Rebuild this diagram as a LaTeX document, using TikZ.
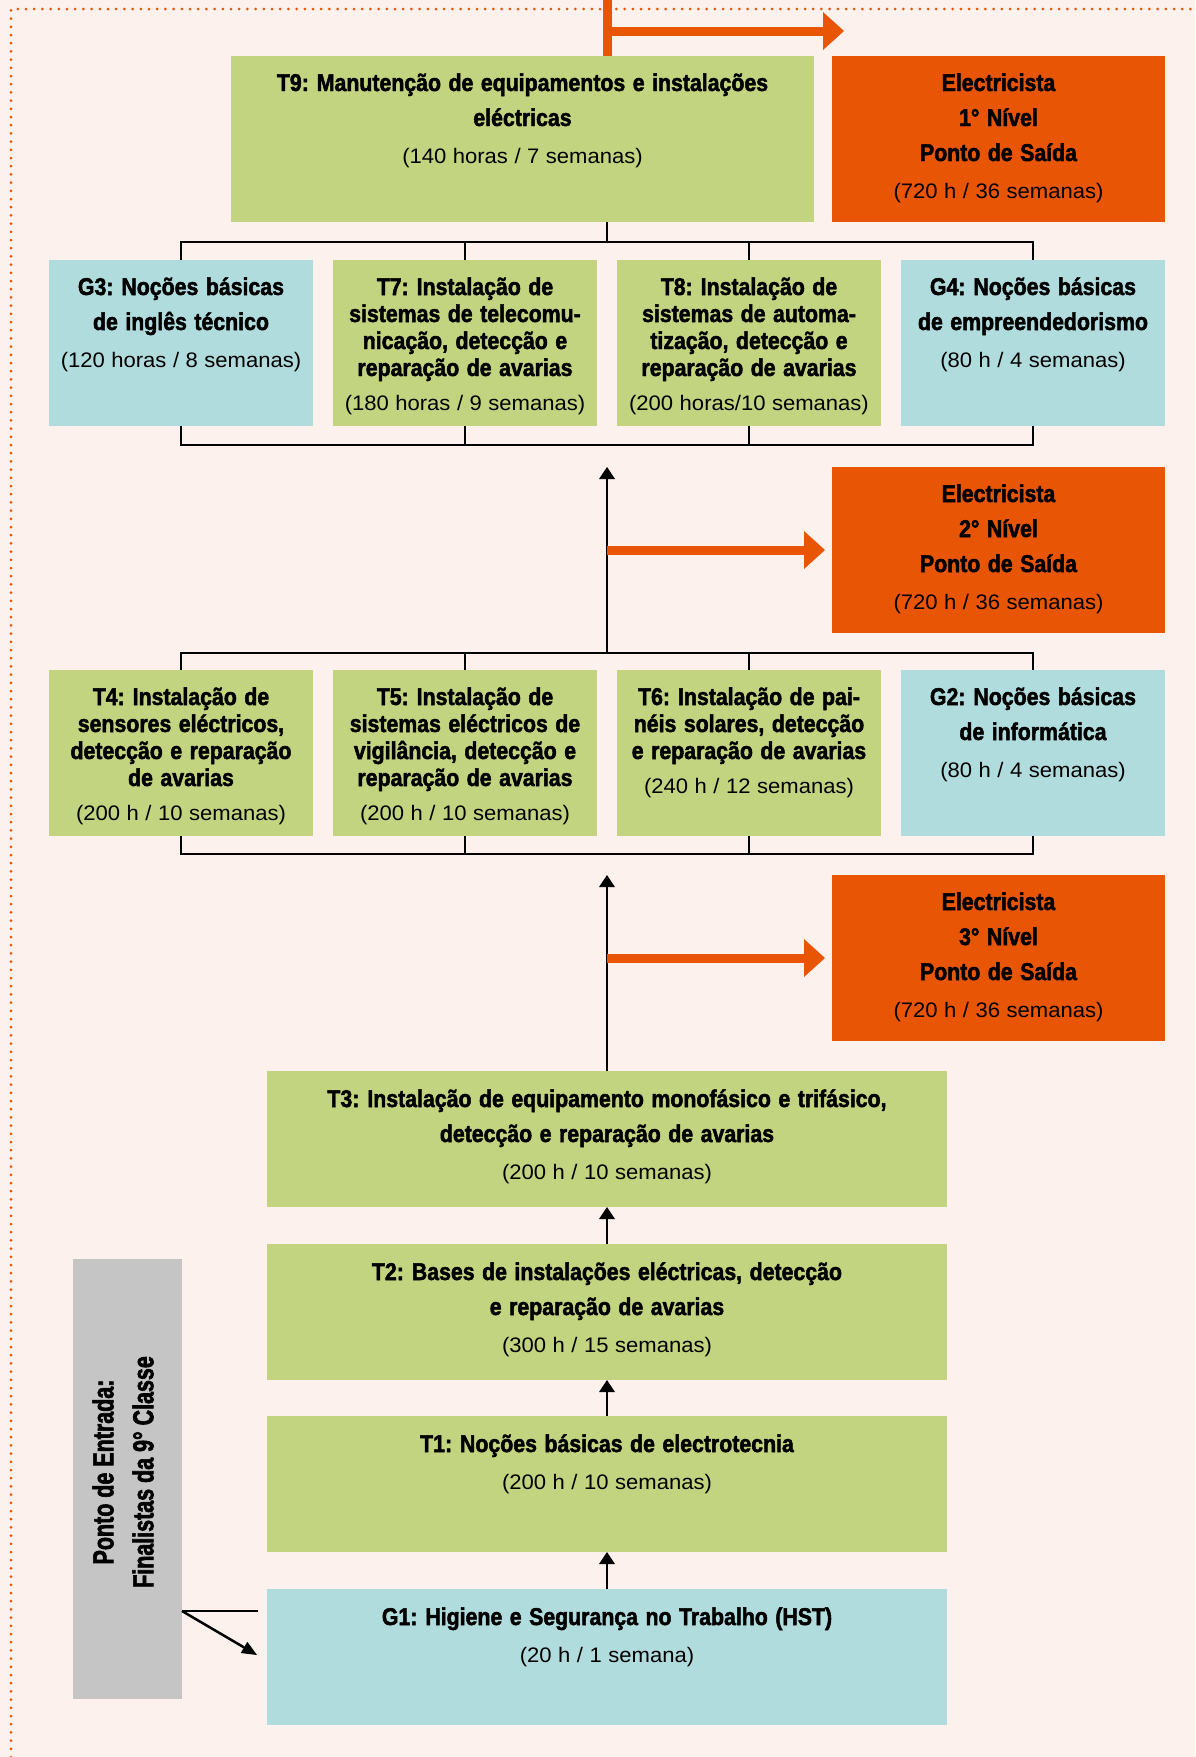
\documentclass[tikz,border=0pt]{standalone}
\usepackage{fontspec}
\setmainfont{Liberation Sans}
\newfontfamily\hdfont[FakeStretch=0.88, FakeBold=2]{Liberation Sans Bold}
\newfontfamily\subfont[FakeStretch=1.05]{Liberation Sans}
\newfontfamily\gfont[FakeStretch=0.74, FakeBold=2]{Liberation Sans Bold}
\usetikzlibrary{arrows.meta}
\definecolor{bg}{HTML}{FCF1EC}
\definecolor{grn}{HTML}{C2D47F}
\definecolor{blu}{HTML}{B1DCDD}
\definecolor{org}{HTML}{E85505}
\definecolor{gry}{HTML}{C4C5C4}
\setlength\parindent{0pt}
\newcommand\tA{\hdfont\fontsize{24.2pt}{35pt}\selectfont\spaceskip=7.5pt\relax\xspaceskip=8pt\relax}
\newcommand\tB{\hdfont\fontsize{24.2pt}{27pt}\selectfont\spaceskip=7.5pt\relax\xspaceskip=8pt\relax}
\newcommand\sA{\subfont\mdseries\fontsize{21pt}{37pt}\selectfont\spaceskip=6.5pt\relax\xspaceskip=6.5pt\relax}
\newcommand\sB{\subfont\mdseries\fontsize{21pt}{34pt}\selectfont\spaceskip=6.5pt\relax\xspaceskip=6.5pt\relax}
\newcommand\hstrut{\rule{0pt}{24pt}}
\begin{document}
\begin{tikzpicture}[x=1pt,y=-1pt,
  bx/.style={anchor=north west, inner sep=0pt, outer sep=0pt, shape=rectangle},
  gfill/.style={bx, fill=grn},
  bfill/.style={bx, fill=blu},
  ofill/.style={bx, fill=org},
  txt/.style={anchor=north, inner sep=0pt, outer sep=0pt, align=center},
  ln/.style={draw=black, line width=2pt, line join=miter},
  arr/.style={ln, -{Triangle[length=12pt, width=16pt, line width=0pt]}},
  garr/.style={draw=black, line width=2.5pt, -{Triangle[length=15pt, width=13pt, line width=0pt]}},
  oln/.style={draw=org, line width=9pt},
  oarr/.style={draw=org, line width=9pt, -{Triangle[length=21pt, width=38pt, line width=0pt]}},
  dots/.style={draw=org, line width=3pt, line cap=round, dash pattern=on 0pt off 8.2pt}]
\path[use as bounding box, fill=bg] (0,0) rectangle (1195,1757);
\draw[dots] (11,1757) -- (11,9) -- (1195,9);

% boxes
\node[gfill, minimum width=583pt, minimum height=166pt] (t9) at (231,56) {};
\node[ofill, minimum width=333pt, minimum height=166pt] (e1) at (832,56) {};
\node[bfill, minimum width=264pt, minimum height=166pt] (g3) at (49,260) {};
\node[gfill, minimum width=264pt, minimum height=166pt] (t7) at (333,260) {};
\node[gfill, minimum width=264pt, minimum height=166pt] (t8) at (617,260) {};
\node[bfill, minimum width=264pt, minimum height=166pt] (g4) at (901,260) {};
\node[ofill, minimum width=333pt, minimum height=166pt] (e2) at (832,467) {};
\node[gfill, minimum width=264pt, minimum height=166pt] (t4) at (49,670) {};
\node[gfill, minimum width=264pt, minimum height=166pt] (t5) at (333,670) {};
\node[gfill, minimum width=264pt, minimum height=166pt] (t6) at (617,670) {};
\node[bfill, minimum width=264pt, minimum height=166pt] (g2) at (901,670) {};
\node[ofill, minimum width=333pt, minimum height=166pt] (e3) at (832,875) {};
\node[gfill, minimum width=680pt, minimum height=136pt] (t3) at (267,1071) {};
\node[gfill, minimum width=680pt, minimum height=136pt] (t2) at (267,1244) {};
\node[gfill, minimum width=680pt, minimum height=136pt] (t1) at (267,1416) {};
\node[bfill, minimum width=680pt, minimum height=136pt] (g1) at (267,1589) {};
\node[bx, fill=gry, minimum width=109pt, minimum height=440pt] (gray) at (73,1259) {};

% texts
\node[txt, text width=583pt] (t9t) at ([yshift=-11pt]t9.north) {\tA\hstrut T9: Manutenção de equipamentos e instalações\\ eléctricas\\ \sA(140 horas / 7 semanas)\par};
\node[txt, text width=333pt] (e1t) at ([yshift=-11pt]e1.north) {\tA\hstrut Electricista\\ 1° Nível\\ Ponto de Saída\\ \sA(720 h / 36 semanas)\par};
\node[txt, text width=264pt] (g3t) at ([yshift=-11pt]g3.north) {\tA\hstrut G3: Noções básicas\\ de inglês técnico\\ \sA(120 horas / 8 semanas)\par};
\node[txt, text width=264pt] (t7t) at ([yshift=-11pt]t7.north) {\tB\hstrut T7: Instalação de\\ sistemas de telecomu-\\ nicação, detecção e\\ reparação de avarias\\ \sB(180 horas / 9 semanas)\par};
\node[txt, text width=264pt] (t8t) at ([yshift=-11pt]t8.north) {\tB\hstrut T8: Instalação de\\ sistemas de automa-\\ tização, detecção e\\ reparação de avarias\\ \sB(200 horas/10 semanas)\par};
\node[txt, text width=264pt] (g4t) at ([yshift=-11pt]g4.north) {\tA\hstrut G4: Noções básicas\\ de empreendedorismo\\ \sA(80 h / 4 semanas)\par};
\node[txt, text width=333pt] (e2t) at ([yshift=-11pt]e2.north) {\tA\hstrut Electricista\\ 2° Nível\\ Ponto de Saída\\ \sA(720 h / 36 semanas)\par};
\node[txt, text width=264pt] (t4t) at ([yshift=-11pt]t4.north) {\tB\hstrut T4: Instalação de\\ sensores eléctricos,\\ detecção e reparação\\ de avarias\\ \sB(200 h / 10 semanas)\par};
\node[txt, text width=264pt] (t5t) at ([yshift=-11pt]t5.north) {\tB\hstrut T5: Instalação de\\ sistemas eléctricos de\\ vigilância, detecção e\\ reparação de avarias\\ \sB(200 h / 10 semanas)\par};
\node[txt, text width=264pt] (t6t) at ([yshift=-11pt]t6.north) {\tB\hstrut T6: Instalação de pai-\\ néis solares, detecção\\ e reparação de avarias\\ \sB(240 h / 12 semanas)\par};
\node[txt, text width=264pt] (g2t) at ([yshift=-11pt]g2.north) {\tA\hstrut G2: Noções básicas\\ de informática\\ \sA(80 h / 4 semanas)\par};
\node[txt, text width=333pt] (e3t) at ([yshift=-11pt]e3.north) {\tA\hstrut Electricista\\ 3° Nível\\ Ponto de Saída\\ \sA(720 h / 36 semanas)\par};
\node[txt, text width=680pt] (t3t) at ([yshift=-12pt]t3.north) {\tA\hstrut T3: Instalação de equipamento monofásico e trifásico,\\ detecção e reparação de avarias\\ \sA(200 h / 10 semanas)\par};
\node[txt, text width=680pt] (t2t) at ([yshift=-12pt]t2.north) {\tA\hstrut T2: Bases de instalações eléctricas, detecção\\ e reparação de avarias\\ \sA(300 h / 15 semanas)\par};
\node[txt, text width=680pt] (t1t) at ([yshift=-12pt]t1.north) {\tA\hstrut T1: Noções básicas de electrotecnia\\ \sA(200 h / 10 semanas)\par};
\node[txt, text width=680pt] (g1t) at ([yshift=-12pt]g1.north) {\tA\hstrut G1: Higiene e Segurança no Trabalho (HST)\\ \sA(20 h / 1 semana)\par};
\node[rotate=90, inner sep=0pt, align=center, font=\gfont\fontsize{29pt}{40pt}\selectfont] (grayt) at (123,1472) {Ponto de Entrada:\\ Finalistas da 9° Classe};

% spine coordinates
\coordinate (br1) at (607,242);
\coordinate (br2) at (607,445);
\coordinate (br3) at (607,653);
\coordinate (br4) at (607,854);
\coordinate (otop) at (607,0);
\coordinate (o1a) at (603,31);
\coordinate (o1b) at (844,31);

% top orange arrow
\draw[oln] (otop) -- (otop |- t9.north);
\draw[oarr] (o1a) -- (o1b);

% bracket row 2
\draw[ln] (br1 |- t9.south) -- (br1);
\draw[ln] (g3.north) -- (g3.north |- br1) -- (g4.north |- br1) -- (g4.north);
\draw[ln] (t7.north) -- (t7.north |- br1);
\draw[ln] (t8.north) -- (t8.north |- br1);
\draw[ln] (g3.south) -- (g3.south |- br2) -- (g4.south |- br2) -- (g4.south);
\draw[ln] (t7.south) -- (t7.south |- br2);
\draw[ln] (t8.south) -- (t8.south |- br2);

% spine up to row 2 and exit 2
\draw[arr] (br3) -- (br3 |- e2.north);
\draw[oarr, shorten >=7pt] (br3 |- e2.west) -- (e2.west);

% bracket row 3
\draw[ln] (t4.north) -- (t4.north |- br3) -- (g2.north |- br3) -- (g2.north);
\draw[ln] (t5.north) -- (t5.north |- br3);
\draw[ln] (t6.north) -- (t6.north |- br3);
\draw[ln] (t4.south) -- (t4.south |- br4) -- (g2.south |- br4) -- (g2.south);
\draw[ln] (t5.south) -- (t5.south |- br4);
\draw[ln] (t6.south) -- (t6.south |- br4);

% spine up from T3 and exit 3
\draw[arr] (t3.north) -- (t3.north |- e3.north);
\draw[oarr, shorten >=7pt] (t3.north |- e3.west) -- (e3.west);

% stack arrows
\draw[arr] (t2.north) -- (t3.south);
\draw[arr] (t1.north) -- (t2.south);
\draw[arr] (g1.north) -- (t1.south);

% entry lines
\coordinate (ga) at (182,1611);
\coordinate (gb) at (258,1611);
\coordinate (gc) at (257,1655);
\draw[draw=black, line width=2.5pt] (ga) -- (gb);
\draw[garr] (ga) -- (gc);
\end{tikzpicture}
\end{document}
